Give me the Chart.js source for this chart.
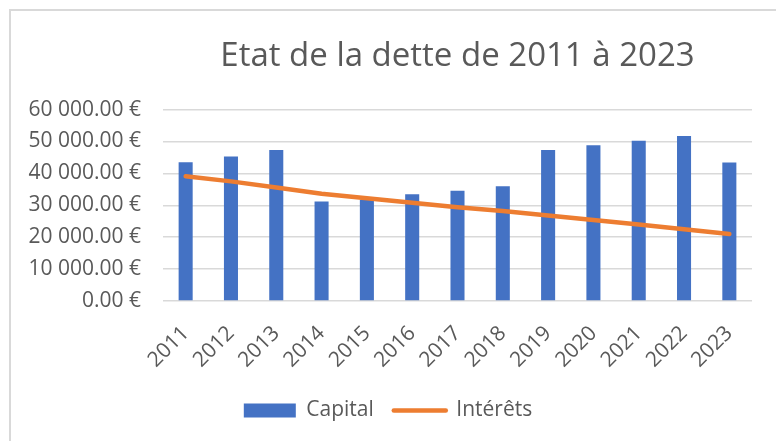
<!DOCTYPE html>
<html>
<head>
<meta charset="utf-8">
<script src="https://cdn.jsdelivr.net/npm/chart.js@4"></script>
<style>
  body { margin: 0; background: #fff; }
  #wrap { position: relative; width: 776px; height: 441px; }
  #frame { position: absolute; left: 9px; top: 9px; right: 0; bottom: 0;
           border-left: 2px solid #d9d9d9; border-top: 2px solid #d9d9d9; }
  canvas { position: absolute; left: 0; top: 0; }
</style>
</head>
<body>
<div id="wrap">
  <div id="frame"></div>
  <canvas id="chart" width="776" height="441"></canvas>
</div>
<script>
// Data
const years = ['2011', '2012', '2013', '2014', '2015', '2016', '2017', '2018', '2019', '2020', '2021', '2022', '2023'];
const capital = [43500, 45300, 47300, 31200, 31800, 33500, 34600, 36000, 47300, 48800, 50200, 51700, 43400];
const interets = [39100, 37500, 35600, 33600, 32200, 30800, 29400, 28200, 26800, 25400, 24000, 22500, 21000];

const textColor = '#595959';
const fontFamily = "'Open Sans', sans-serif";

// "60 000.00 €" style labels
function euro(v) {
    const parts = Number(v).toFixed(2).split('.');
    parts[0] = parts[0].replace(/\B(?=(\d{3})+(?!\d))/g, ' ');
    return parts.join('.') + ' €';
}

const ctx = document.getElementById('chart').getContext('2d');

const chart = new Chart(ctx, {
    type: 'bar',
    data: {
        labels: years,
        datasets: [{
            label: 'Capital',
            data: capital,
            backgroundColor: '#4472c4',
            borderWidth: 0,
            barPercentage: 0.31,
            categoryPercentage: 1,
            order: 2
        }, {
            type: 'line',
            label: 'Intérêts',
            data: interets,
            borderColor: '#ed7d31',
            backgroundColor: '#ed7d31',
            borderWidth: 4.5,
            borderCapStyle: 'round',
            borderJoinStyle: 'round',
            pointRadius: 0,
            tension: 0,
            order: 1
        }]
    },
    options: {
        responsive: false,
        animation: false,
        layout: { padding: { left: 24, right: 24, top: 0, bottom: 10 } },
        plugins: {
            title: {
                display: true,
                text: 'Etat de la dette de 2011 à 2023',
                color: textColor,
                fullSize: false,
                font: { family: fontFamily, size: 33, weight: 'normal' },
                padding: { top: 37, bottom: 33 }
            },
            legend: {
                position: 'bottom',
                labels: {
                    color: textColor,
                    font: { family: fontFamily, size: 21 },
                    usePointStyle: true,
                    pointStyleWidth: 52,
                    boxHeight: 14,
                    padding: 20,
                    generateLabels: function(chart) {
                        const items = Chart.defaults.plugins.legend.labels.generateLabels(chart);
                        items.sort((a, b) => a.datasetIndex - b.datasetIndex);
                        items.forEach(item => {
                            if (item.datasetIndex === 0) {
                                item.pointStyle = 'rect';
                                item.lineWidth = 0;
                            } else {
                                item.pointStyle = 'line';
                                item.lineWidth = 4.5;
                                item.lineCap = 'round';
                                item.strokeStyle = '#ed7d31';
                            }
                        });
                        return items;
                    }
                }
            },
            tooltip: { enabled: false }
        },
        scales: {
            x: {
                grid: { display: false },
                border: { display: false },
                ticks: {
                    color: textColor,
                    font: { family: fontFamily, size: 21 },
                    maxRotation: 45,
                    minRotation: 45,
                    padding: 12
                },
                afterFit: function(scale) { scale.height = 79; }
            },
            y: {
                min: 0,
                max: 60000,
                grid: { color: '#d9d9d9', lineWidth: 1.5, drawTicks: false },
                border: { display: false },
                ticks: {
                    stepSize: 10000,
                    color: textColor,
                    font: { family: fontFamily, size: 21 },
                    padding: 22,
                    callback: function(v) { return euro(v); }
                },
                afterFit: function(scale) { scale.width = 139; }
            }
        }
    }
});
</script>
</body>
</html>
